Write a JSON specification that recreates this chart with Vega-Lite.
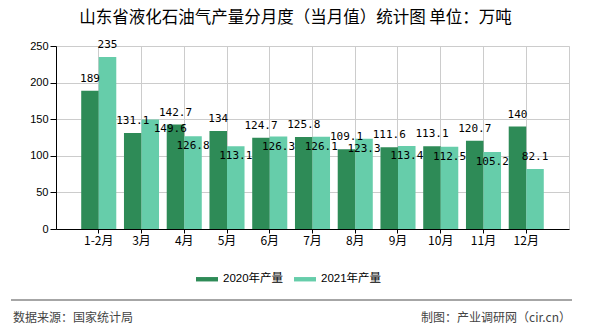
{
  "$schema": "https://vega.github.io/schema/vega-lite/v6.json",
  "background": "white",
  "padding": {"left": 10, "top": 9, "right": 5, "bottom": 5},
  "title": {
    "text": "山东省液化石油气产量分月度（当月值）统计图 单位：万吨",
    "anchor": "middle",
    "font": "Noto Sans CJK SC",
    "fontSize": 16.5,
    "fontWeight": "normal",
    "color": "#000",
    "offset": 12,
    "dx": 4
  },
  "spacing": 52,
  "vconcat": [
    {
      "width": 513,
      "height": 183,
      "data": {
        "values": [
          {"month": "1-2月", "series": "2020年产量", "value": 189},
          {"month": "1-2月", "series": "2021年产量", "value": 235},
          {"month": "3月", "series": "2020年产量", "value": 131.1},
          {"month": "3月", "series": "2021年产量", "value": 149.6},
          {"month": "4月", "series": "2020年产量", "value": 142.7},
          {"month": "4月", "series": "2021年产量", "value": 126.8},
          {"month": "5月", "series": "2020年产量", "value": 134},
          {"month": "5月", "series": "2021年产量", "value": 113.1},
          {"month": "6月", "series": "2020年产量", "value": 124.7},
          {"month": "6月", "series": "2021年产量", "value": 126.3},
          {"month": "7月", "series": "2020年产量", "value": 125.8},
          {"month": "7月", "series": "2021年产量", "value": 126.1},
          {"month": "8月", "series": "2020年产量", "value": 109.1},
          {"month": "8月", "series": "2021年产量", "value": 123.3},
          {"month": "9月", "series": "2020年产量", "value": 111.6},
          {"month": "9月", "series": "2021年产量", "value": 113.4},
          {"month": "10月", "series": "2020年产量", "value": 113.1},
          {"month": "10月", "series": "2021年产量", "value": 112.5},
          {"month": "11月", "series": "2020年产量", "value": 120.7},
          {"month": "11月", "series": "2021年产量", "value": 105.2},
          {"month": "12月", "series": "2020年产量", "value": 140},
          {"month": "12月", "series": "2021年产量", "value": 82.1}
        ]
      },
      "view": {"stroke": "#cccccc", "strokeWidth": 1},
      "encoding": {
        "x": {
          "field": "month",
          "type": "nominal",
          "scale": {
            "domain": ["1-2月", "3月", "4月", "5月", "6月", "7月", "8月", "9月", "10月", "11月", "12月"],
            "paddingInner": 0.18,
            "paddingOuter": 0.59
          },
          "axis": {
            "title": null,
            "labelAngle": 0,
            "labelFont": "Noto Sans CJK SC",
            "labelFontSize": 12,
            "labelColor": "#000",
            "labelPadding": 2,
            "domainColor": "#000",
            "tickColor": "#000",
            "tickSize": 4,
            "grid": true,
            "gridColor": "#cccccc"
          }
        },
        "xOffset": {"field": "series", "type": "nominal"},
        "y": {
          "field": "value",
          "type": "quantitative",
          "scale": {"domain": [0, 250]},
          "axis": {
            "title": null,
            "values": [0, 50, 100, 150, 200, 250],
            "labelFont": "Liberation Sans",
            "labelFontSize": 11,
            "labelColor": "#000",
            "labelPadding": 2,
            "domainColor": "#000",
            "tickColor": "#000",
            "tickSize": 6,
            "gridColor": "#cccccc"
          }
        }
      },
      "layer": [
        {
          "mark": {"type": "bar"},
          "encoding": {
            "color": {
              "field": "series",
              "type": "nominal",
              "scale": {"range": ["#2e8b57", "#66cdaa"]},
              "legend": {
                "title": null,
                "orient": "none",
                "direction": "horizontal",
                "legendX": 140,
                "legendY": 222,
                "symbolType": "M-1,-0.2H1V0.2H-1Z",
                "symbolSize": 484,
                "symbolStrokeWidth": 0,
                "symbolOpacity": 1,
                "labelFont": "Liberation Sans, Noto Sans CJK SC",
                "labelFontSize": 11.5,
                "labelColor": "#000",
                "labelOffset": 5,
                "columnPadding": 10
              }
            }
          }
        },
        {
          "transform": [{"filter": "datum.series == '2020年产量'"}],
          "mark": {
            "type": "text",
            "baseline": "bottom",
            "dy": -7,
            "font": "DejaVu Sans Mono",
            "fontSize": 11,
            "color": "#000"
          },
          "encoding": {
            "text": {"field": "value", "type": "quantitative"}
          }
        },
        {
          "transform": [
            {"calculate": "datum.series == '2020年产量' ? datum.value : null", "as": "v2020"},
            {"joinaggregate": [{"op": "max", "field": "v2020", "as": "ref2020"}], "groupby": ["month"]},
            {"filter": "datum.series == '2021年产量' && abs(datum.value - datum.ref2020) > 40"}
          ],
          "mark": {
            "type": "text",
            "baseline": "bottom",
            "dy": -7,
            "font": "DejaVu Sans Mono",
            "fontSize": 11,
            "color": "#000"
          },
          "encoding": {
            "text": {"field": "value", "type": "quantitative"}
          }
        },
        {
          "transform": [
            {"calculate": "datum.series == '2020年产量' ? datum.value : null", "as": "v2020"},
            {"joinaggregate": [{"op": "max", "field": "v2020", "as": "ref2020"}], "groupby": ["month"]},
            {"filter": "datum.series == '2021年产量' && datum.value - datum.ref2020 > 15 && abs(datum.value - datum.ref2020) <= 40"}
          ],
          "mark": {
            "type": "text",
            "baseline": "top",
            "dy": 4,
            "dx": 20,
            "font": "DejaVu Sans Mono",
            "fontSize": 11,
            "color": "#000"
          },
          "encoding": {
            "text": {"field": "value", "type": "quantitative"}
          }
        },
        {
          "transform": [
            {"calculate": "datum.series == '2020年产量' ? datum.value : null", "as": "v2020"},
            {"joinaggregate": [{"op": "max", "field": "v2020", "as": "ref2020"}], "groupby": ["month"]},
            {"filter": "datum.series == '2021年产量' && datum.value - datum.ref2020 <= 15 && abs(datum.value - datum.ref2020) <= 40"}
          ],
          "mark": {
            "type": "text",
            "baseline": "top",
            "dy": 4,
            "font": "DejaVu Sans Mono",
            "fontSize": 11,
            "color": "#000"
          },
          "encoding": {
            "text": {"field": "value", "type": "quantitative"}
          }
        }
      ]
    },
    {
      "width": 513,
      "height": 30,
      "view": {"stroke": null},
      "data": {
        "values": [
          {"label": "数据来源：国家统计局", "pos": 0},
          {"label": "制图：产业调研网（cir.cn）", "pos": 1}
        ]
      },
      "layer": [
        {
          "transform": [{"filter": "datum.pos == 0"}],
          "mark": {"type": "rule", "color": "#888888", "strokeWidth": 1.5},
          "encoding": {
            "x": {
              "field": "pos",
              "type": "quantitative",
              "scale": {"domain": [0, 1], "range": [-45, 516]},
              "axis": null
            },
            "x2": {"datum": 1},
            "y": {
              "datum": 1,
              "type": "quantitative",
              "scale": {"domain": [0, 1]},
              "axis": null
            }
          }
        },
        {
          "transform": [{"filter": "datum.pos == 0"}],
          "mark": {
            "type": "text",
            "align": "left",
            "baseline": "middle",
            "dx": 2,
            "font": "Noto Sans CJK SC",
            "fontSize": 12,
            "color": "#444"
          },
          "encoding": {
            "x": {"field": "pos", "type": "quantitative"},
            "y": {"datum": 0.4, "type": "quantitative"},
            "text": {"field": "label"}
          }
        },
        {
          "transform": [{"filter": "datum.pos == 1"}],
          "mark": {
            "type": "text",
            "align": "right",
            "baseline": "middle",
            "dx": -1,
            "font": "Noto Sans CJK SC",
            "fontSize": 12,
            "color": "#444"
          },
          "encoding": {
            "x": {"field": "pos", "type": "quantitative"},
            "y": {"datum": 0.4, "type": "quantitative"},
            "text": {"field": "label"}
          }
        }
      ]
    }
  ]
}
